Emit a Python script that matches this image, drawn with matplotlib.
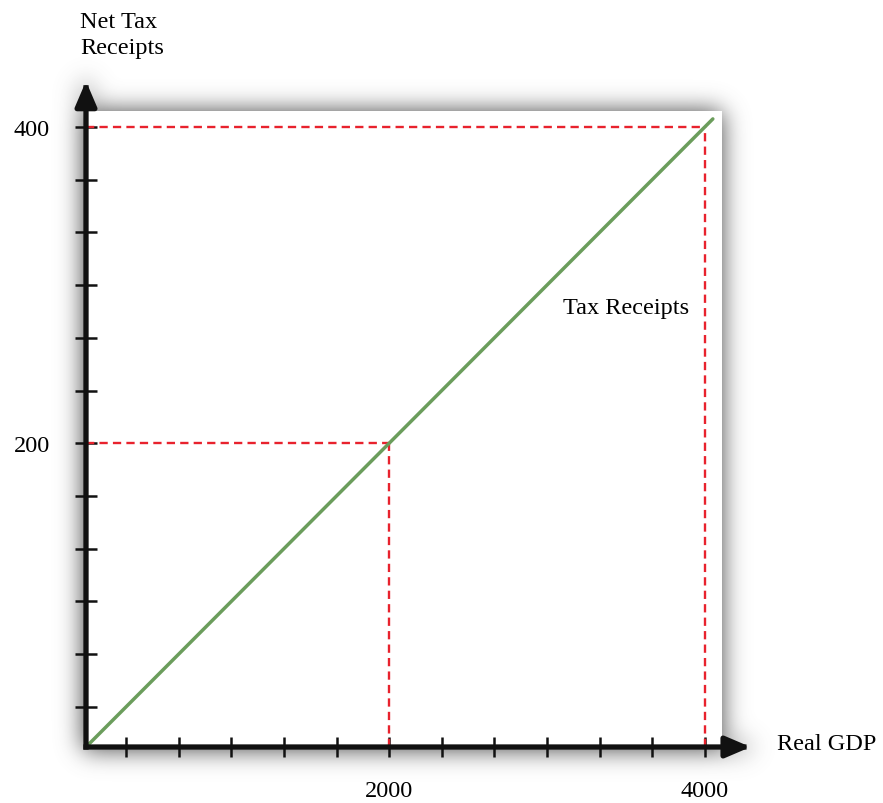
import numpy as np
import matplotlib
matplotlib.use("Agg")
from matplotlib import pyplot as plt
from matplotlib.patches import FancyArrowPatch

plt.rcParams['font.family'] = ['Liberation Serif', 'DejaVu Serif']

# data
gdp = [80, 2000, 4050]
tax = [8, 200, 405]
guide_x = [2000, 4000]
guide_y = [200, 400]
x_ticks = np.linspace(4000 / 12, 4000, 12)
y_ticks = np.linspace(400 / 12, 400, 12)
x_labels = {2000: '2000', 4000: '4000'}
y_labels = {200: '200', 400: '400'}

W, H = 883, 804
fig = plt.figure(figsize=(W / 100, H / 100), dpi=100)

# soft drop shadow behind the plot box
L, R, T, B = 86, 722, 112, 748
mask = np.zeros((H, W))
mask[T:B + 3, L - 3:R] = 1.0
mask[83:B, L - 3:L + 3] = 1.0
mask[B - 3:B + 3, L:750] = 1.0
sig = 12
k = np.exp(-0.5 * (np.arange(-3 * sig, 3 * sig + 1) / sig) ** 2)
k /= k.sum()
blur = mask.copy()
for axis in (0, 1):
    blur = np.apply_along_axis(lambda v: np.convolve(v, k, mode='same'), axis, blur)
img = np.zeros((H, W, 4))
img[..., :3] = 0.42
img[..., 3] = np.clip(blur * 1.25, 0, 1)
bg = fig.add_axes([0, 0, 1, 1], zorder=0)
bg.imshow(img, extent=(0, 1, 0, 1), aspect='auto', interpolation='bilinear')
bg.axis('off')

ax = fig.add_axes([L / W, 1 - B / H, (R - L) / W, (B - T) / H], zorder=1)
ax.set_facecolor('white')
ax.set_xlim(80, 4108)
ax.set_ylim(8, 410)
for s in ax.spines.values():
    s.set_visible(False)

# guide lines
red = '#e8222d'
for gx, gy in zip(guide_x, guide_y):
    ax.plot([80, gx], [gy, gy], color=red, lw=1.7, dashes=(3.5, 2.2))
    ax.plot([gx, gx], [8, gy], color=red, lw=1.7, dashes=(3.5, 2.2))

ax.plot(gdp, tax, color='#6b9d5c', lw=2.5, solid_capstyle='round', clip_on=False, zorder=3)
ax.text(3100, 286, 'Tax Receipts', fontsize=17.5, ha='left', va='center')

# axes with arrows
for end in [(0, 1.047), (1.045, 0)]:
    arr = FancyArrowPatch((0, 0), end, transform=ax.transAxes,
                          arrowstyle='-|>,head_length=0.75,head_width=0.32',
                          mutation_scale=20, color='#111111', lw=3.8,
                          shrinkA=0, shrinkB=0, clip_on=False, zorder=5,
                          capstyle='projecting')
    ax.add_patch(arr)

ax.set_xticks(x_ticks)
ax.set_xticklabels([x_labels.get(int(round(t)), '') for t in x_ticks])
ax.set_yticks(y_ticks)
ax.set_yticklabels([y_labels.get(int(round(t)), '') for t in y_ticks])
ax.tick_params(axis='x', direction='inout', length=14, width=1.8, color='#111111',
               labelsize=17.5, pad=17)
ax.tick_params(axis='y', direction='inout', length=16, width=1.8, color='#111111',
               labelsize=17.5, pad=18)

fig.text(80 / W, 1 - 12 / H, 'Net Tax\nReceipts', fontsize=17.5, ha='left', va='top',
         linespacing=1.3)
fig.text(777 / W, 1 - 745 / H, 'Real GDP', fontsize=17.5, ha='left', va='center')

fig.savefig('out.png', dpi=100, facecolor='white')
